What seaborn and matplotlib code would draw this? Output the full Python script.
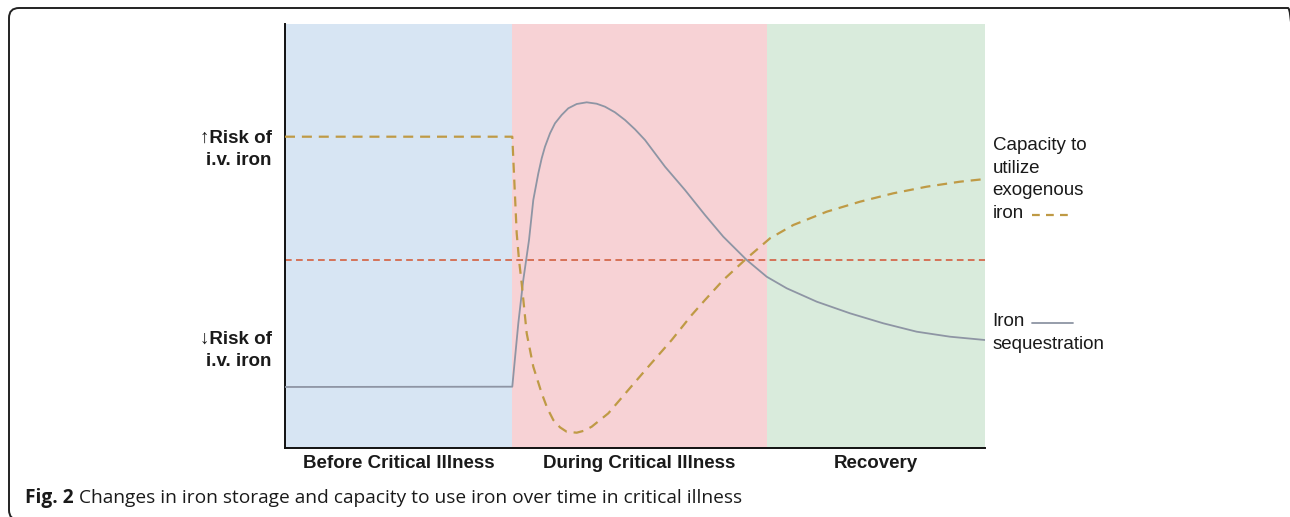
import numpy as np
import pandas as pd
import matplotlib
matplotlib.use("Agg")
import matplotlib.pyplot as plt
import seaborn as sns
from matplotlib.patches import FancyBboxPatch
from matplotlib.transforms import IdentityTransform

# ---------------- data ----------------
phase_labels = ["Before Critical Illness", "During Critical Illness", "Recovery"]
phase_edges = [0, 32.4, 68.9, 100]
phase_colors = ["#d7e5f3", "#f7d2d5", "#d9ebdc"]

risk_labels = ["\u2191Risk of\ni.v. iron", "\u2193Risk of\ni.v. iron"]
risk_levels = [71.4, 24.0]

threshold = 44.34

iron_x = [0, 32.47, 33.33, 34.04, 34.86, 35.47, 36.19, 36.67, 37.14, 37.86, 38.57,
          39.52, 40.47, 41.67, 43.10, 44.52, 45.71, 47.14, 48.57, 50.0, 51.43,
          54.29, 57.14, 60.0, 62.61, 65.96, 68.81, 71.67, 75.96, 80.71, 85.47,
          90.24, 95.0, 100]
iron_y = [14.39, 14.46, 29.41, 39.62, 49.06, 58.49, 64.79, 68.32, 71.06, 74.22, 76.58,
          78.54, 80.12, 81.13, 81.53, 81.20, 80.50, 79.17, 77.36, 75.16, 72.64,
          66.34, 60.85, 54.95, 49.84, 44.34, 40.40, 37.67, 34.51, 31.77, 29.41,
          27.43, 26.25, 25.47]

cap_x = [0, 32.47, 33.10, 33.43, 33.81, 34.53, 35.47, 36.67, 37.48, 38.33, 39.29,
         40.24, 41.67, 42.76, 43.81, 46.19, 49.04, 51.90, 55.24, 58.10, 60.0,
         62.61, 65.96, 69.29, 72.61, 77.39, 82.14, 86.90, 91.67, 96.43, 100]
cap_y = [73.42, 73.42, 50.64, 44.34, 38.84, 27.05, 19.17, 12.90, 9.36, 6.60, 4.87,
         3.84, 3.61, 4.09, 5.02, 8.18, 13.68, 19.17, 25.47, 31.37, 34.91,
         39.62, 44.74, 49.46, 52.59, 55.73, 58.09, 60.07, 61.63, 62.81, 63.44]

cap_label = "Capacity to\nutilize\nexogenous\niron"
iron_label = "Iron\nsequestration"
caption_bold = "Fig. 2"
caption_text = "Changes in iron storage and capacity to use iron over time in critical illness"

# ---------------- styling ----------------
sns.set_theme(style="white")
plt.rcParams["font.family"] = ["Liberation Sans", "DejaVu Sans"]

IRON_C = "#8e95a4"
CAP_C = "#bf9a45"
THR_C = "#d4694c"

W, H = 1290, 517
fig = plt.figure(figsize=(W / 100, H / 100), dpi=100)
fig.patch.set_facecolor("white")
ax = fig.add_axes([285 / W, (H - 448) / H, 700 / W, 424 / H])
ax.set_xlim(0, 100)
ax.set_ylim(0, 100)

for i in range(3):
    ax.axvspan(phase_edges[i], phase_edges[i + 1], color=phase_colors[i], lw=0, zorder=0)

ax.axhline(threshold, color=THR_C, lw=1.3, dashes=(3.7, 2.4), zorder=2)

df_iron = pd.DataFrame({"x": iron_x, "y": iron_y})
df_cap = pd.DataFrame({"x": cap_x, "y": cap_y})
sns.lineplot(data=df_iron, x="x", y="y", ax=ax, color=IRON_C, lw=1.3, sort=False,
             estimator=None, zorder=3)
sns.lineplot(data=df_cap, x="x", y="y", ax=ax, color=CAP_C, lw=1.6, sort=False,
             estimator=None, zorder=3, dashes=False)
ax.lines[-1].set_dashes((4.5, 3.1))

ax.set_xlabel("")
ax.set_ylabel("")
centers = [(phase_edges[i] + phase_edges[i + 1]) / 2 for i in range(3)]
ax.set_xticks(centers)
ax.set_xticklabels(phase_labels, fontsize=13.5, fontweight="bold", color="#1a1a1a")
ax.set_yticks(risk_levels)
ax.set_yticklabels(risk_labels, fontsize=13.5, fontweight="bold", color="#1a1a1a",
                   linespacing=1.4)
ax.tick_params(axis="x", length=0, pad=5)
ax.tick_params(axis="y", length=0, pad=9.5)

for s in ["top", "right"]:
    ax.spines[s].set_visible(False)
for s in ["left", "bottom"]:
    ax.spines[s].set_visible(True)
    ax.spines[s].set_color("#111111")
    ax.spines[s].set_linewidth(1.4)

# right-side annotations
ax.text(101.1, 73.4, cap_label, fontsize=13.5, color="#1a1a1a", va="top", ha="left",
        linespacing=1.45, clip_on=False)
ax.text(101.1, 31.8, iron_label, fontsize=13.5, color="#1a1a1a", va="top", ha="left",
        linespacing=1.45, clip_on=False)
ax.plot([106.7, 112.0], [54.9, 54.9], color=CAP_C, lw=1.6, dashes=(3.5, 2.8), clip_on=False)
ax.plot([106.7, 112.6], [29.55, 29.55], color=IRON_C, lw=1.3, clip_on=False)

# caption
t1 = fig.text(25 / W, (H - 503) / H, caption_bold, fontsize=13.8, fontweight="bold",
              family=["Open Sans", "DejaVu Sans"], color="#1a1a1a", va="baseline")
fig.canvas.draw()
bb = t1.get_window_extent()
fig.text((bb.x1 + 5) / W, (H - 503) / H, caption_text, fontsize=13.8,
         family=["Open Sans", "DejaVu Sans"], color="#1a1a1a", va="baseline")

# outer rounded frame
frame = FancyBboxPatch((9, -3), 1289, 512, boxstyle="round,pad=0,rounding_size=10",
                       transform=IdentityTransform(), fill=False, ec="#222222", lw=1.4)
fig.patches.append(frame)

fig.savefig("out.png", dpi=100)
